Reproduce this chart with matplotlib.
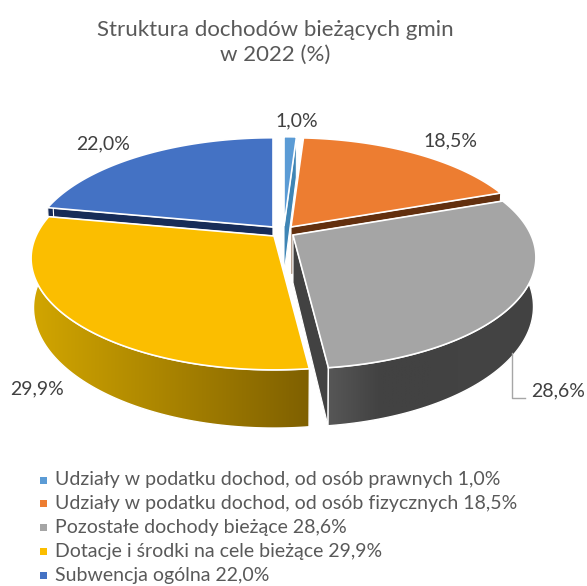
import numpy as np
import matplotlib
matplotlib.use('Agg')
import matplotlib.pyplot as plt
from matplotlib.patches import Polygon, Rectangle

plt.rcParams['font.family'] = ['Lato', 'DejaVu Sans']

# data
names = ['Udziały w podatku dochod. od osób prawnych', 'Udziały w podatku dochod. od osób fizycznych',
         'Pozostałe dochody bieżące', 'Dotacje i środki na cele bieżące', 'Subwencja ogólna']
values = [1.0, 18.5, 28.6, 29.9, 22.0]
title = 'Struktura dochodów bieżących gmin\nw 2022 (%)'

# styles
top_colors = ['#5b9bd5', '#ed7d31', '#a5a5a5', '#fbbe00', '#4472c4']
wall_colors = ['#3f85b5', '#63300f', ('#575757', '#424242', '#424242', '#444444', '#424242'),
               ('#d2a600', '#7f6000'), '#172c58']
apex_px = [(284, 226), (291, 227), (293, 235), (274, 236), (273, 227)]
label_px = [(297, 121), (450, 141), (558, 391), (37, 389), (103, 144)]
legend_y = [480, 503.5, 527.5, 551.5, 575]
grey_text = '#595959'

# perspective of the pie
A, a, k, b, d = 238.0, 0.2, 0.45, 0.99, 0.2


def top_pt(apex, th):
    u, v = np.sin(th), np.cos(th)
    s = A / (1 + a * v)
    return apex[0] + s * u, apex[1] - s * k * v


def bot_pt(apex, th):
    u, v = np.sin(th), np.cos(th)
    s = A / (1 + a * v)
    return apex[0] + s * b * u, apex[1] - s * b * k * v + d * s


def apex_bot(apex):
    return apex[0], apex[1] + d * A


fig = plt.figure(figsize=(5.87, 5.86), dpi=100)
ax = fig.add_axes([0, 0, 1, 1])
ax.set_xlim(0, 587)
ax.set_ylim(586, 0)
ax.axis('off')


def gradient_poly(pts, colors, z):
    pts = np.array(pts)
    poly = Polygon(pts, closed=True, fc='none', ec='none', zorder=z)
    ax.add_patch(poly)
    cmap = matplotlib.colors.LinearSegmentedColormap.from_list('w', colors)
    x0, x1 = pts[:, 0].min(), pts[:, 0].max()
    y0, y1 = pts[:, 1].min(), pts[:, 1].max()
    im = ax.imshow(np.linspace(0, 1, 256).reshape(1, -1), cmap=cmap, extent=(x0, x1, y1, y0),
                   aspect='auto', zorder=z)
    im.set_clip_path(poly)
    ax.add_patch(Polygon(pts, closed=True, fc='none', ec='white', lw=1.0, zorder=z + 0.1))


edges = np.radians(np.cumsum([0] + values) / sum(values) * 360)

z = 1
for i in [4, 0, 1, 2, 3]:
    t0, t1 = edges[i], edges[i + 1]
    apex = apex_px[i]
    ts = np.linspace(t0, t1, 120)
    col = wall_colors[i]

    # cut faces
    for t in (t0, t1):
        face = [apex, top_pt(apex, t), bot_pt(apex, t), apex_bot(apex)]
        c = col if isinstance(col, str) else col[-1]
        ax.add_patch(Polygon(face, closed=True, fc=c, ec='white', lw=0.8, zorder=z))
    z += 1

    # outer rim, only the front part can be seen
    if np.cos(t1) < 0.25 or np.cos(t0) < 0.25:
        rim_t = ts[np.cos(ts) < 0.25]
        rim = [top_pt(apex, t) for t in rim_t] + [bot_pt(apex, t) for t in rim_t[::-1]]
        if isinstance(col, str):
            ax.add_patch(Polygon(rim, closed=True, fc=col, ec='white', lw=0.8, zorder=z))
        else:
            gradient_poly(rim, col, z)
    z += 1

    # top of the slice
    top = [apex] + [top_pt(apex, t) for t in ts]
    ax.add_patch(Polygon(top, closed=True, fc=top_colors[i], ec='white', lw=1.2, zorder=z))
    z += 1

ax.set_xlim(0, 587)
ax.set_ylim(586, 0)

# leader line of the grey slice
ax.plot([512, 512, 525], [353, 398, 398], color='#a6a6a6', lw=1.0, zorder=z)

ax.text(275.5, 42.5, title, ha='center', va='center', fontsize=16, color=grey_text, linespacing=1.35, zorder=z)

for v, (x, y) in zip(values, label_px):
    ax.text(x, y, f'{v:.1f}%'.replace('.', ','), ha='center', va='center', fontsize=14,
            color='#404040', zorder=z)

for name, v, c, y in zip(names, values, top_colors, legend_y):
    ax.add_patch(Rectangle((39.5, y - 3.5), 7, 7, fc=c, ec='none', zorder=z))
    ax.text(55, y, f'{name} {v:.1f}%'.replace('.', ','), ha='left', va='center', fontsize=14,
            color=grey_text, zorder=z)

fig.savefig('out.png', dpi=100)
